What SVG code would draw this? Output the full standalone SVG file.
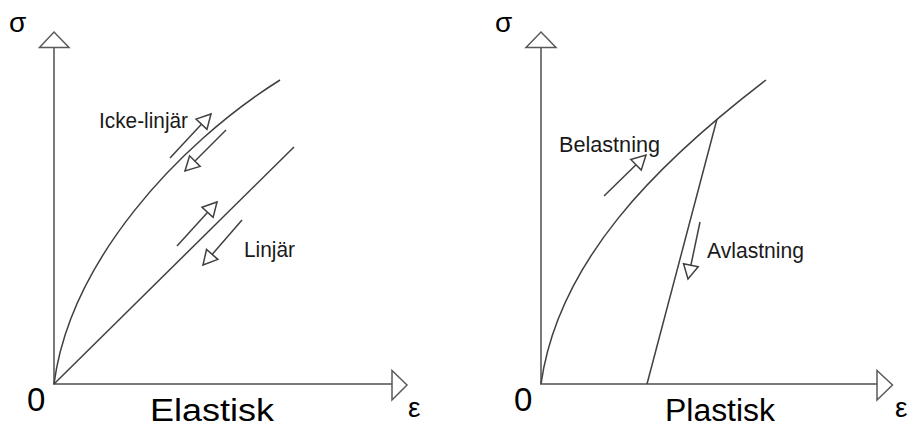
<svg xmlns="http://www.w3.org/2000/svg" width="911" height="428" viewBox="0 0 911 428">
<style>
.ax{stroke:#7a7a7a;stroke-width:2;fill:none}
.ah{stroke:#5a5a5a;stroke-width:1.5;fill:#fff}
.cv{stroke:#404040;stroke-width:1.5;fill:none}
.ar{stroke:#404040;stroke-width:1.5;fill:none;marker-end:url(#oa)}
.lbl{font-family:"Liberation Sans",Arial,sans-serif;font-size:22px;fill:#1a1a1a}
.big{font-family:"Liberation Sans",Arial,sans-serif;font-size:31px;fill:#000}
.sym{font-family:"Liberation Sans",Arial,sans-serif;font-size:28px;fill:#000}
</style>
<defs>
<marker id="oa" markerUnits="userSpaceOnUse" markerWidth="18" markerHeight="18" refX="15" refY="9" orient="auto" overflow="visible">
<path d="M1,1.5 L15,9 L1,16.5 Z" fill="#fff" stroke="#404040" stroke-width="1.5"/>
</marker>
</defs>
<g id="elastic-axes">
<line class="ax" x1="54" y1="47" x2="54" y2="384"/>
<line class="ax" x1="53" y1="384" x2="392" y2="384"/>
<polygon class="ah" points="54,32 69,47.5 39.5,47.5"/>
<polygon class="ah" points="392,370.5 407,385 392,400"/>
<text class="sym" x="9" y="32">σ</text>
<text class="sym" x="408" y="417">ε</text>
<text class="big" x="27" y="411" style="font-size:33px">0</text>
<text class="big" x="150" y="421" textLength="124" lengthAdjust="spacingAndGlyphs">Elastisk</text>
</g>
<g id="elastic-curves">
<path class="cv" d="M54,384 C70,262 177,145 280,80"/>
<path class="cv" d="M54,384 L294,147"/>
</g>
<g id="label-nonlinear"><text class="lbl" x="99" y="128" textLength="89" lengthAdjust="spacingAndGlyphs">Icke-linjär</text></g>
<g id="label-linear"><text class="lbl" x="244" y="257" textLength="51" lengthAdjust="spacingAndGlyphs">Linjär</text></g>
<g id="plastic-axes">
<line class="ax" x1="541" y1="47" x2="541" y2="384"/>
<line class="ax" x1="540" y1="384" x2="877" y2="384"/>
<polygon class="ah" points="541,32 556,47.5 526,47.5"/>
<polygon class="ah" points="877,370.5 892.5,385 877,400"/>
<text class="sym" x="495" y="32">σ</text>
<text class="sym" x="895" y="417">ε</text>
<text class="big" x="514" y="411" style="font-size:33px">0</text>
<text class="big" x="665" y="421" textLength="110" lengthAdjust="spacingAndGlyphs">Plastisk</text>
</g>
<g id="plastic-curves">
<path class="cv" d="M541,384 C558,262 655,165 766,80"/>
<path class="cv" d="M717,119 L647,384"/>
</g>
<g id="label-loading"><text class="lbl" x="559" y="152" textLength="101" lengthAdjust="spacingAndGlyphs">Belastning</text></g>
<g id="label-unloading"><text class="lbl" x="707" y="258" textLength="97" lengthAdjust="spacingAndGlyphs">Avlastning</text></g>
<g id="connectors">
<path class="ar" d="M170,158 L211,114"/>
<path class="ar" d="M226,130 L185,171"/>
<path class="ar" d="M177,246 L217,202"/>
<path class="ar" d="M242,220 L203,265"/>
<path class="ar" d="M604,196 L646,155"/>
<path class="ar" d="M700,222 L688,279"/>
</g>
</svg>
